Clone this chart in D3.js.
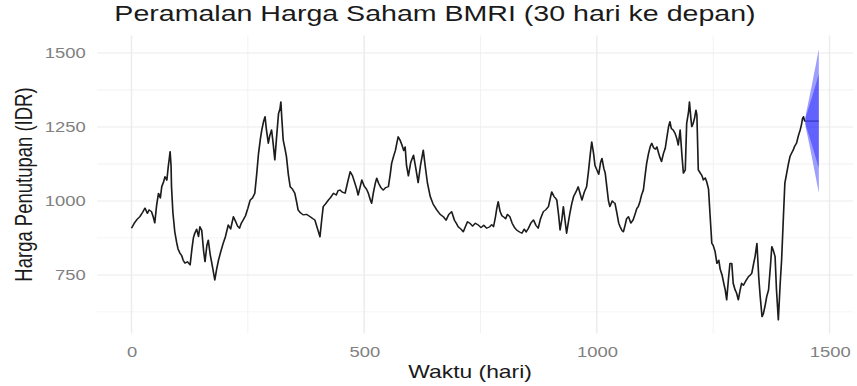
<!DOCTYPE html>
<html>
<head>
<meta charset="utf-8">
<script src="https://cdn.jsdelivr.net/npm/d3@7"></script>
<style>
  html, body { margin: 0; padding: 0; background: #fff; }
  svg { display: block; }
</style>
</head>
<body>
<svg id="chart" width="857" height="386"></svg>
<script>
// Closing price of BMRI by trading day
const days = [0,6,12,18,24,29,34,38,43,47,50,54,58,62,65,69,72,76,79,81,83,85,86,89,93,97,100,104,108,111,115,120,126,130,133,136,140,144,147,151,155,158,162,165,169,172,176,179,183,187,192,197,202,208,213,219,224,228,232,236,240,245,250,255,260,265,269,273,277,280,284,287,290,294,297,301,304,308,312,316,319,321,323,326,330,333,337,341,346,351,355,358,363,369,376,384,390,394,398,402,405,409,412,417,423,428,434,440,444,448,453,459,464,470,475,480,484,487,491,495,500,505,509,513,516,520,524,527,531,536,541,546,552,556,559,563,567,573,577,581,585,588,591,595,600,606,611,616,621,627,631,636,642,648,656,663,670,676,682,688,694,698,702,708,713,718,722,727,733,739,745,751,757,763,769,774,778,782,785,788,792,796,799,804,808,813,818,824,829,834,839,844,848,853,858,864,869,874,879,885,890,896,900,903,908,911,914,918,921,925,928,932,935,939,942,946,950,955,960,964,968,973,978,982,986,989,993,996,1000,1004,1008,1011,1015,1018,1022,1025,1028,1033,1036,1039,1043,1047,1050,1054,1057,1061,1064,1068,1073,1078,1083,1086,1089,1093,1096,1100,1104,1107,1111,1115,1118,1122,1126,1129,1133,1136,1139,1143,1147,1150,1154,1157,1160,1164,1168,1172,1175,1179,1183,1186,1190,1193,1197,1199,1202,1204,1207,1210,1213,1215,1218,1222,1226,1229,1233,1236,1240,1243,1247,1250,1254,1258,1262,1265,1269,1273,1276,1279,1283,1286,1290,1293,1297,1300,1304,1308,1311,1315,1320,1326,1330,1333,1337,1340,1344,1348,1351,1355,1358,1362,1365,1369,1373,1376,1379,1383,1386,1390,1394,1397,1401,1404,1408,1411,1415,1418,1422,1425,1429,1433,1437,1440,1442,1444,1447];
const close = [908,925,938,947,962,976,958,970,964,945,926,985,1026,1010,1048,1065,1082,1070,1116,1140,1167,1120,1048,960,896,860,838,824,815,800,790,795,784,840,875,891,905,880,913,900,830,795,850,868,820,795,760,733,770,800,830,857,880,919,905,947,930,915,908,925,936,950,975,1003,1010,1026,1090,1161,1210,1240,1270,1285,1240,1195,1220,1240,1200,1139,1220,1296,1310,1335,1280,1206,1175,1150,1090,1048,1040,1026,995,970,960,953,955,947,940,936,915,895,879,940,981,990,1003,1012,1026,1020,1035,1037,1030,1026,1060,1099,1085,1060,1040,1020,1045,1071,1050,1040,1026,1005,992,1030,1060,1077,1060,1045,1037,1045,1048,1090,1127,1150,1170,1217,1206,1190,1170,1183,1120,1085,1130,1155,1110,1062,1120,1172,1120,1060,1015,990,970,955,947,935,955,964,935,925,913,905,896,915,930,925,915,925,919,910,918,908,912,920,913,945,975,998,965,950,947,940,955,947,925,908,900,895,891,905,895,908,925,936,918,908,940,964,970,981,1010,1031,1015,1010,1003,950,902,940,981,930,891,930,958,990,1015,1030,1048,1025,1003,1030,1048,1100,1160,1200,1160,1120,1105,1090,1130,1144,1110,1094,1040,1000,981,1000,995,992,960,925,913,900,896,920,940,947,925,936,960,975,981,1000,1020,1037,1090,1127,1160,1185,1195,1180,1175,1183,1160,1145,1133,1160,1178,1210,1250,1268,1245,1240,1229,1210,1189,1240,1150,1094,1105,1262,1300,1335,1280,1251,1262,1280,1307,1290,1105,1095,1085,1071,1078,1065,1040,960,857,850,830,789,800,770,750,720,699,666,740,789,789,722,700,690,666,700,722,715,730,745,750,756,789,812,857,740,677,609,620,650,677,700,780,846,834,812,700,598,722,800,950,1060,1094,1120,1150,1160,1172,1185,1195,1220,1240,1260,1279,1285,1268];

// 30-day forecast: point forecast and 80% / 95% intervals
const fcDays = [1448,1450,1453,1456,1459,1462,1465,1468,1471,1474,1477];
const fcMean = [1270,1270,1270,1270,1270,1270,1270,1270,1270,1270,1270];
const lo80 = [1262,1251,1236,1221,1206,1191,1175,1159,1143,1127,1111];
const hi80 = [1278,1289,1304,1319,1334,1349,1365,1381,1397,1413,1429];
const lo95 = [1256,1240,1218,1195,1172,1149,1124,1100,1076,1051,1027];
const hi95 = [1284,1300,1322,1345,1368,1391,1416,1440,1464,1489,1513];

const xTicks = [0, 500, 1000, 1500];
const xMinor = [250, 750, 1250];
const yTicks = [750, 1000, 1250, 1500];
const yMinor = [625, 875, 1125, 1375];

const titleText = "Peramalan Harga Saham BMRI (30 hari ke depan)";
const xLabel = "Waktu (hari)";
const yLabel = "Harga Penutupan (IDR)";

// Drawing units: the figure is laid out on a 675-wide canvas and stretched to the 857px frame
const W = 675, H = 386;
const svg = d3.select("#chart")
  .attr("viewBox", `0 0 ${W} ${H}`)
  .attr("preserveAspectRatio", "none");

const panel = { left: 76.5, right: 672, top: 35.6, bottom: 333.5 };

const series = days.map((d, i) => ({ day: d, value: close[i] }));
const fc = fcDays.map((d, i) => ({ day: d, mean: fcMean[i], lo80: lo80[i], hi80: hi80[i], lo95: lo95[i], hi95: hi95[i] }));

// 5% padding on each side of the data range
const xExt = [d3.min(days), d3.max(fcDays)];
const xPad = (xExt[1] - xExt[0]) * 0.05;
const yLo = Math.min(d3.min(close), d3.min(lo95));
const yHi = Math.max(d3.max(close), d3.max(hi95));
const yPad = (yHi - yLo) * 0.05;

const x = d3.scaleLinear().domain([xExt[0] - xPad, xExt[1] + xPad]).range([panel.left, panel.right]);
const y = d3.scaleLinear().domain([yLo - yPad, yHi + yPad]).range([panel.bottom, panel.top]);

const font = "'Liberation Sans', Arial, Helvetica, sans-serif";

// grid
const grid = svg.append("g");
grid.selectAll("line.ymin").data(yMinor).join("line")
  .attr("x1", panel.left).attr("x2", panel.right)
  .attr("y1", d => y(d)).attr("y2", d => y(d))
  .attr("stroke", "#f2f2f2").attr("stroke-width", 0.8);
grid.selectAll("line.xmin").data(xMinor).join("line")
  .attr("y1", panel.top).attr("y2", panel.bottom)
  .attr("x1", d => x(d)).attr("x2", d => x(d))
  .attr("stroke", "#f2f2f2").attr("stroke-width", 0.8);
grid.selectAll("line.ymaj").data(yTicks).join("line")
  .attr("x1", panel.left).attr("x2", panel.right)
  .attr("y1", d => y(d)).attr("y2", d => y(d))
  .attr("stroke", "#ebebeb").attr("stroke-width", 1.1);
grid.selectAll("line.xmaj").data(xTicks).join("line")
  .attr("y1", panel.top).attr("y2", panel.bottom)
  .attr("x1", d => x(d)).attr("x2", d => x(d))
  .attr("stroke", "#ebebeb").attr("stroke-width", 1.1);

// price history
svg.append("path")
  .datum(series)
  .attr("fill", "none")
  .attr("stroke", "#1c1c1c")
  .attr("stroke-width", 1.3)
  .attr("stroke-linejoin", "round")
  .attr("d", d3.line().x(d => x(d.day)).y(d => y(d.value)));

// forecast intervals
svg.append("path")
  .datum(fc)
  .attr("fill", "blue").attr("fill-opacity", 0.38)
  .attr("d", d3.area().x(d => x(d.day)).y0(d => y(d.lo95)).y1(d => y(d.hi95)));
svg.append("path")
  .datum(fc)
  .attr("fill", "blue").attr("fill-opacity", 0.38)
  .attr("d", d3.area().x(d => x(d.day)).y0(d => y(d.lo80)).y1(d => y(d.hi80)));
svg.append("path")
  .datum(fc)
  .attr("fill", "none").attr("stroke", "#2a2ab8").attr("stroke-width", 1.0)
  .attr("d", d3.line().x(d => x(d.day)).y(d => y(d.mean)));

// axes (labels only, no domain lines or tick marks)
const xAxis = svg.append("g")
  .attr("transform", `translate(0,${panel.bottom + 4})`)
  .call(d3.axisBottom(x).tickValues(xTicks).tickSize(0).tickPadding(9).tickFormat(d3.format("d")));
xAxis.select(".domain").remove();
xAxis.selectAll("text").attr("font-family", font).attr("font-size", 14.5).attr("fill", "#808080");

const yAxis = svg.append("g")
  .attr("transform", `translate(${panel.left - 4},0)`)
  .call(d3.axisLeft(y).tickValues(yTicks).tickSize(0).tickPadding(5).tickFormat(d3.format("d")));
yAxis.select(".domain").remove();
yAxis.selectAll("text").attr("font-family", font).attr("font-size", 14.5).attr("fill", "#808080");

// axis titles
svg.append("text")
  .attr("x", (panel.left + panel.right) / 2 - 4).attr("y", 378)
  .attr("text-anchor", "middle")
  .attr("font-family", font).attr("font-size", 18).attr("fill", "#1a1a1a")
  .text(xLabel);
svg.append("text")
  .attr("transform", `translate(25,${(panel.top + panel.bottom) / 2}) rotate(-90)`)
  .attr("text-anchor", "middle")
  .attr("font-family", font).attr("font-size", 18.5).attr("fill", "#1a1a1a")
  .text(yLabel);

// title
svg.append("text")
  .attr("x", 342.6).attr("y", 21)
  .attr("text-anchor", "middle")
  .attr("font-family", font).attr("font-size", 22.5).attr("fill", "#1a1a1a")
  .text(titleText);
</script>
</body>
</html>
